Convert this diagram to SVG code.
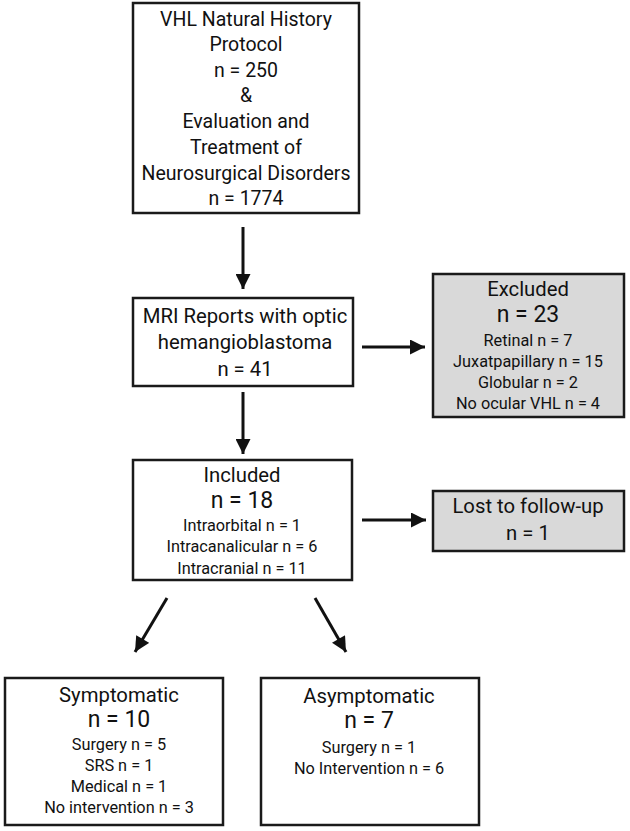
<svg xmlns="http://www.w3.org/2000/svg" width="630" height="831" viewBox="0 0 630 831">
<style>
.box{fill:#fff;stroke:#1a1a1a;stroke-width:2.5}
.gray{fill:#d9d9d9;stroke:#1a1a1a;stroke-width:2.5}
text{font-family:Roboto,"Liberation Sans",sans-serif;fill:#111;text-anchor:middle}
.t1{font-size:19.5px}
.t1b{font-size:20.3px}
.t2{font-size:23px}
.t3{font-size:16.3px}
.c{stroke:#111;stroke-width:3;fill:none}
</style>
<defs>
<marker id="ah" viewBox="0 0 10 10" refX="10" refY="5" markerWidth="5.5" markerHeight="5" markerUnits="strokeWidth" orient="auto">
<path d="M0,0 L10,5 L0,10 Z" fill="#111"/>
</marker>
</defs>
<rect width="630" height="831" fill="#fff"/>
<g id="connectors">
<line class="c" x1="243" y1="227" x2="243" y2="289" marker-end="url(#ah)"/>
<line class="c" x1="362" y1="347" x2="425" y2="347" marker-end="url(#ah)"/>
<line class="c" x1="243" y1="392" x2="243" y2="454" marker-end="url(#ah)"/>
<line class="c" x1="362" y1="520" x2="426" y2="520" marker-end="url(#ah)"/>
<line class="c" x1="167" y1="598" x2="135" y2="652" marker-end="url(#ah)"/>
<line class="c" x1="315" y1="598" x2="346" y2="652" marker-end="url(#ah)"/>
</g>
<g id="node-vhl">
<rect class="box" x="133" y="3" width="226" height="210"/>
<text class="t1" x="246" y="26">VHL Natural History</text>
<text class="t1" x="246" y="51">Protocol</text>
<text class="t1" x="246" y="77">n = 250</text>
<text class="t1" x="246" y="102">&amp;</text>
<text class="t1" x="246" y="128">Evaluation and</text>
<text class="t1" x="246" y="154">Treatment of</text>
<text class="t1" x="246" y="180">Neurosurgical Disorders</text>
<text class="t1" x="246" y="205">n = 1774</text>
</g>
<g id="node-mri">
<rect class="box" x="133" y="298" width="220" height="88"/>
<text class="t1b" x="245" y="323">MRI Reports with optic</text>
<text class="t1b" x="245" y="349">hemangioblastoma</text>
<text class="t1b" x="245" y="376">n = 41</text>
</g>
<g id="node-excluded">
<rect class="gray" x="433" y="274" width="191" height="143"/>
<text class="t1b" x="528" y="296">Excluded</text>
<text class="t2" x="528" y="322">n = 23</text>
<text class="t3" x="528" y="346">Retinal n = 7</text>
<text class="t3" x="528" y="367">Juxatpapillary n = 15</text>
<text class="t3" x="528" y="388">Globular n = 2</text>
<text class="t3" x="528" y="409">No ocular VHL n = 4</text>
</g>
<g id="node-included">
<rect class="box" x="133" y="460" width="219" height="120"/>
<text class="t1b" x="242" y="482">Included</text>
<text class="t2" x="242" y="508">n = 18</text>
<text class="t3" x="242" y="531">Intraorbital n = 1</text>
<text class="t3" x="242" y="552">Intracanalicular n = 6</text>
<text class="t3" x="242" y="574">Intracranial n = 11</text>
</g>
<g id="node-lost">
<rect class="gray" x="433" y="491" width="191" height="60"/>
<text class="t1b" x="528" y="513">Lost to follow-up</text>
<text class="t1b" x="528" y="540">n = 1</text>
</g>
<g id="node-symptomatic">
<rect class="box" x="5" y="678" width="218" height="147"/>
<text class="t1b" x="119" y="702">Symptomatic</text>
<text class="t2" x="119" y="727">n = 10</text>
<text class="t3" x="119" y="750">Surgery n = 5</text>
<text class="t3" x="119" y="771">SRS n = 1</text>
<text class="t3" x="119" y="792">Medical n = 1</text>
<text class="t3" x="119" y="813">No intervention n = 3</text>
</g>
<g id="node-asymptomatic">
<rect class="box" x="261" y="678" width="218" height="147"/>
<text class="t1b" x="369" y="703">Asymptomatic</text>
<text class="t2" x="369" y="728">n = 7</text>
<text class="t3" x="369" y="753">Surgery n = 1</text>
<text class="t3" x="369" y="774">No Intervention n = 6</text>
</g>
</svg>
